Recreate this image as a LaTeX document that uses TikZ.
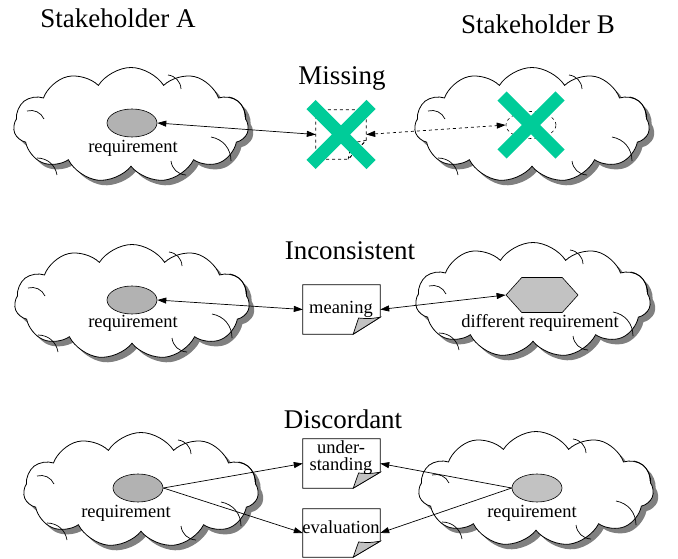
\documentclass[tikz,border=0pt]{standalone}
\usepackage{fontspec}
\setmainfont{Liberation Serif}
\newfontfamily\timesface{Liberation Serif}
\usetikzlibrary{shapes.symbols,shapes.geometric,shadows,arrows.meta}

\definecolor{crossgreen}{RGB}{0,204,153}
\definecolor{reqgray}{RGB}{178,178,178}
\definecolor{paleggray}{RGB}{194,194,194}

\tikzset{
  cloudbox/.style={cloud, cloud puffs=11, cloud puff arc=115, cloud ignores aspect,
    draw=black, line width=0.8pt, fill=white, inner sep=0pt,
    minimum width=235pt, minimum height=115pt,
    drop shadow={shadow xshift=5pt, shadow yshift=-5pt, fill=black!50, opacity=1}},
  crease/.style={draw=black, line width=0.7pt},
  reqell/.style={ellipse, draw, line width=0.6pt, fill=reqgray,
    minimum width=50pt, minimum height=28pt, inner sep=0pt},
  ghostell/.style={ellipse, draw, dashed, line width=0.6pt,
    minimum width=50pt, minimum height=27pt, inner sep=0pt},
  hexreq/.style={signal, signal to=east and west, signal pointer angle=96,
    draw, line width=0.6pt, fill=paleggray,
    minimum width=72pt, minimum height=35pt, inner sep=0pt},
  docframe/.style={rectangle, inner sep=0pt, minimum width=77pt, minimum height=49pt},
  docline/.style={draw=black, line width=0.8pt, fill=white},
  ghostline/.style={draw=black, line width=0.7pt, dashed},
  foldfill/.style={draw=black, line width=0.7pt, fill=paleggray},
  title/.style={font=\timesface\fontsize{27}{31}\selectfont, anchor=base, inner sep=0pt},
  lbl/.style={font=\timesface\fontsize{18.5}{20}\selectfont, anchor=base, inner sep=0pt},
  conn/.style={line width=0.7pt, {Triangle[length=9pt,width=6pt]}-{Triangle[length=9pt,width=6pt]}},
  oneway/.style={line width=0.7pt, -{Triangle[length=9pt,width=6pt]}},
  crossline/.style={draw=crossgreen, line width=13pt, line cap=butt},
}

% document sheet with a dog-eared lower right corner
% #1 node, #2 fold width, #3 fold height, #4 outline style, #5 fold style
\newcommand\sheetoutline[5]{%
  \path[#4] (#1.north west) -- (#1.north east) -- ([yshift=#3]#1.south east)
    -- ([xshift=-#2]#1.south east) -- (#1.south west) -- cycle;
  \path[#5] ([xshift=-#2]#1.south east)
    .. controls ([xshift=-0.9*#2, yshift=0.5*#3]#1.south east) .. ([xshift=-0.8*#2, yshift=0.95*#3]#1.south east)
    .. controls ([xshift=-0.4*#2, yshift=0.9*#3]#1.south east) .. ([yshift=#3]#1.south east) -- cycle;
}

% short inner creases where the puffs of a cloud overlap
\newcommand\puffcreases[1]{%
  \draw[crease] ([shift={(-94,33)}]#1.center) to[bend left=40] ([shift={(-74,50)}]#1.center);
  \draw[crease] ([shift={(80,12)}]#1.center) to[bend left=40] ([shift={(100,36)}]#1.center);
  \draw[crease] ([shift={(98,-28)}]#1.center) to[bend left=40] ([shift={(114,-8)}]#1.center);
  \draw[crease] ([shift={(37,-50)}]#1.center) to[bend left=40] ([shift={(50,-36)}]#1.center);
  \draw[crease] ([shift={(40,36)}]#1.center) to[bend right=40] ([shift={(55,50)}]#1.center);
  \draw[crease] ([shift={(-104,-14)}]#1.center) to[bend left=40] ([shift={(-87,-6)}]#1.center);
}

\begin{document}
\begin{tikzpicture}[x=1pt, y=-1pt]
\useasboundingbox (0,0) rectangle (678,559);

% headings
\node[title] (stA) at (118,28) {Stakeholder A};
\node[title] (stB) at (538,34) {Stakeholder B};
\node[title] (hMissing) at (342,85) {Missing};
\node[title] (hIncons) at (350,259) {Inconsistent};
\node[title] (hDisc) at (343,428) {Discordant};

% ---------- Missing ----------
\node[cloudbox] (cloudA1) at (131,125) {};
\puffcreases{cloudA1}
\node[cloudbox] (cloudB1) at (532,125) {};
\puffcreases{cloudB1}
\node[reqell] (reqA1) at (132,123) {};
\node[lbl] (lblA1) at (133,153) {requirement};
\node[ghostell] (reqB1) at (531,125) {};
\node[docframe, minimum width=50pt, minimum height=49pt] (missdoc) at (341,134.5) {};
\sheetoutline{missdoc}{18}{19}{ghostline}{ghostline}
\draw[conn] (reqA1.east) -- (missdoc.west);
\draw[conn, dashed] (missdoc.east) -- (reqB1.west);
\draw[crossline] ([shift={(-30,-30)}]missdoc.center) -- ([shift={(30,30)}]missdoc.center)
                 ([shift={(-30,30)}]missdoc.center) -- ([shift={(30,-30)}]missdoc.center);
\draw[crossline] ([shift={(-29,-29)}]reqB1.center) -- ([shift={(29,29)}]reqB1.center)
                 ([shift={(-29,29)}]reqB1.center) -- ([shift={(29,-29)}]reqB1.center);

% ---------- Inconsistent ----------
\node[cloudbox] (cloudA2) at (132,302) {};
\puffcreases{cloudA2}
\node[cloudbox] (cloudB2) at (533,300) {};
\puffcreases{cloudB2}
\node[reqell] (reqA2) at (132,300) {};
\node[lbl] (lblA2) at (133,327) {requirement};
\node[hexreq] (reqB2) at (542,295) {};
\node[lbl] (lblB2) at (540,327) {different requirement};
\node[docframe] (meandoc) at (341.5,309.5) {};
\sheetoutline{meandoc}{27}{17}{docline}{foldfill}
\node[lbl] (lblMean) at (341,313) {meaning};
\draw[conn] (reqA2.east) -- (meandoc.west);
\draw[conn] (meandoc.east) -- (reqB2.west);

% ---------- Discordant ----------
\node[cloudbox] (cloudA3) at (141,490) {};
\puffcreases{cloudA3}
\node[cloudbox] (cloudB3) at (536,489) {};
\puffcreases{cloudB3}
\node[reqell] (reqA3) at (138,488) {};
\node[lbl] (lblA3) at (126,517) {requirement};
\node[reqell, fill=paleggray] (reqB3) at (537,488) {};
\node[lbl] (lblB3) at (532,517) {requirement};
\node[docframe] (unddoc) at (341.5,463.5) {};
\sheetoutline{unddoc}{27}{16}{docline}{foldfill}
\node[lbl, align=center] (lblUnd) at (341,470) {under-\\[-3pt]standing};
\node[docframe, minimum height=48pt] (evaldoc) at (341.5,533) {};
\sheetoutline{evaldoc}{27}{16}{docline}{foldfill}
\node[lbl] (lblEval) at (341,533) {evaluation};
\draw[oneway] (reqA3.east) -- (unddoc.west);
\draw[oneway] (reqA3.east) -- (evaldoc.west);
\draw[oneway] (reqB3.west) -- (unddoc.east);
\draw[oneway] (reqB3.west) -- (evaldoc.east);
\end{tikzpicture}
\end{document}
